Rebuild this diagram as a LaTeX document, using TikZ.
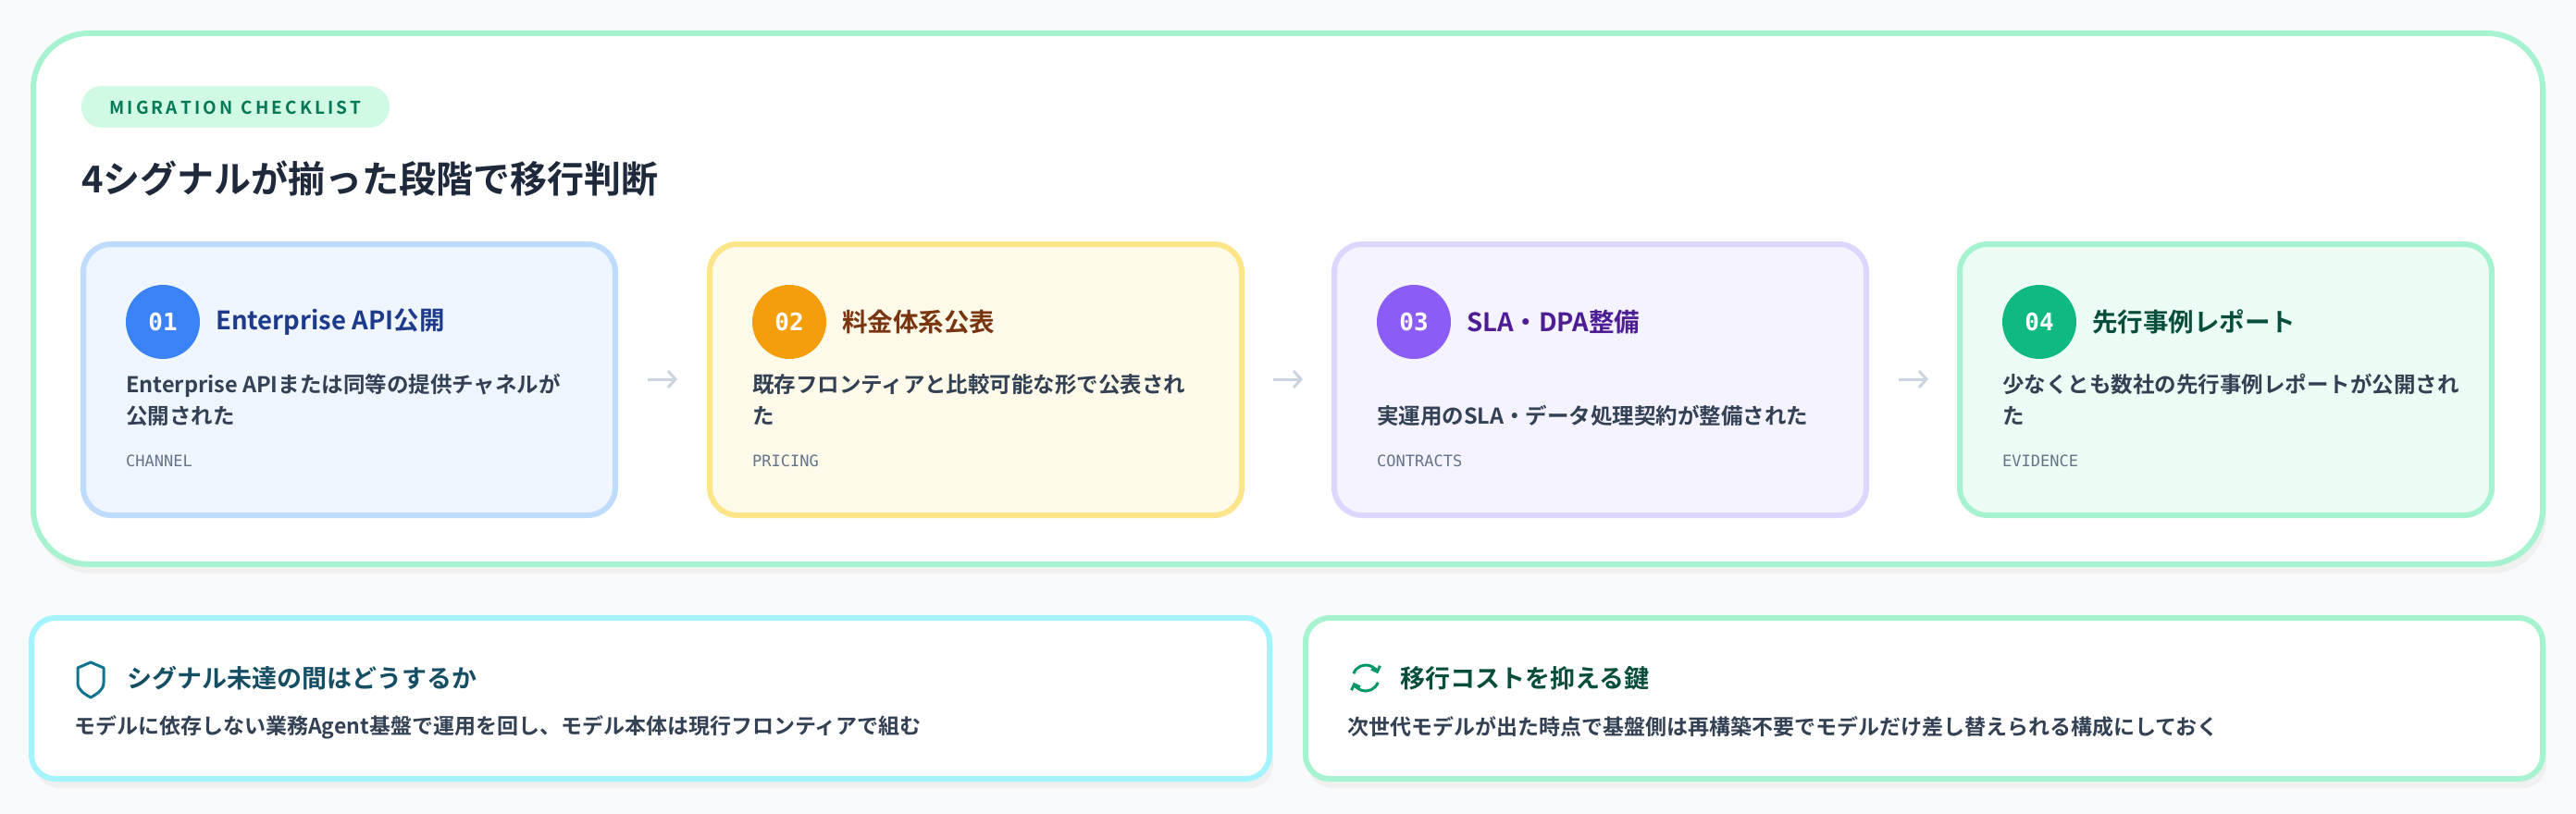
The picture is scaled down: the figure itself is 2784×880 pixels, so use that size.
\documentclass[tikz,border=0pt]{standalone}
\usepackage{fontspec}
\setmainfont{Noto Sans CJK JP}
\newfontfamily\jpb{Noto Sans CJK JP Bold}
\newfontfamily\monof{DejaVu Sans Mono}
\usetikzlibrary{arrows.meta}
\definecolor{bg}{HTML}{F8FAFC}
\definecolor{mint}{HTML}{A7F3D0}
\definecolor{pillf}{HTML}{D1FAE5}
\definecolor{pillt}{HTML}{047857}
\definecolor{ink}{HTML}{1E293B}
\definecolor{body}{HTML}{334155}
\definecolor{lab}{HTML}{64748B}
\definecolor{arr}{HTML}{CBD5E1}
\definecolor{fA}{HTML}{EFF6FF}\definecolor{bA}{HTML}{BFDBFE}\definecolor{cA}{HTML}{3B82F6}\definecolor{tA}{HTML}{1E3A8A}
\definecolor{fB}{HTML}{FEFBEA}\definecolor{bB}{HTML}{FDE68A}\definecolor{cB}{HTML}{F59E0B}\definecolor{tB}{HTML}{78350F}
\definecolor{fC}{HTML}{F5F3FF}\definecolor{bC}{HTML}{DDD6FE}\definecolor{cC}{HTML}{8B5CF6}\definecolor{tC}{HTML}{4C1D95}
\definecolor{fD}{HTML}{ECFDF5}\definecolor{bD}{HTML}{A7F3D0}\definecolor{cD}{HTML}{10B981}\definecolor{tD}{HTML}{064E3B}
\definecolor{cyanb}{HTML}{A5F3FC}\definecolor{tcy}{HTML}{164E63}\definecolor{icy}{HTML}{0E7490}\definecolor{igr}{HTML}{059669}
\begin{document}
\begin{tikzpicture}[x=1pt,y=-1pt,
  card/.style={draw=#1,line width=6pt,rounded corners=30pt},
  num/.style={circle,minimum size=80pt,inner sep=0pt,text=white,font=\monof\bfseries\fontsize{26}{26}\selectfont},
  ctitle/.style={anchor=west,inner sep=0pt,font=\jpb\fontsize{27.5}{27.5}\selectfont},
  cbody/.style={anchor=north west,align=left,text=body,font=\jpb\fontsize{23.5}{34}\selectfont,inner sep=0pt},
  clab/.style={anchor=west,text=lab,font=\monof\fontsize{17}{17}\selectfont,inner sep=0pt},
  flow/.style={draw=arr,line width=3pt,-{Straight Barb[length=8pt,width=18pt]}},
  btitle/.style={anchor=west,font=\jpb\fontsize{27}{27}\selectfont,inner sep=0pt},
  bbody/.style={anchor=west,text=body,font=\jpb\fontsize{23}{23}\selectfont,inner sep=0pt},
  icon/.style={line width=3pt,-{Straight Barb[length=5pt,width=10pt]}}]
\fill[bg] (0,0) rectangle (2784,880);
\useasboundingbox (0,0) rectangle (2784,880);
% outer panel
\fill[black!6] (40,45) [rounded corners=60pt] rectangle (2752,620);
\draw[fill=white,draw=mint,line width=6pt,rounded corners=60pt] (36,36) rectangle (2748,610);
\fill[pillf,rounded corners=22pt] (88,93) rectangle (421,138);
\node[text=pillt,font=\jpb\fontsize{19}{19}\selectfont] (pill) at (254.5,116) {M\,I\,G\,R\,A\,T\,I\,O\,N\ \ C\,H\,E\,C\,K\,L\,I\,S\,T};
\node[anchor=west,inner sep=0pt,text=ink,font=\jpb\fontsize{40}{40}\selectfont] (title) at (88,193) {4シグナルが揃った段階で移行判断};
% cards
\foreach \x/\f/\b/\c/\t/\n/\ttl/\lab [count=\i] in {
  90/fA/bA/cA/tA/01/{Enterprise API公開}/CHANNEL,
  767/fB/bB/cB/tB/02/{料金体系公表}/PRICING,
  1442/fC/bC/cC/tC/03/{SLA・DPA整備}/CONTRACTS,
  2118/fD/bD/cD/tD/04/{先行事例レポート}/EVIDENCE}{
  \draw[card=\b,fill=\f] (\x,264) rectangle ++(575,293);
  \node[num,fill=\c] (n\i) at (\x+86,348) {\n};
  \node[ctitle,text=\t] (t\i) at (\x+143,348) {\ttl};
  \node[clab] (l\i) at (\x+46,498) {\lab};
}
\node[cbody] (b1) at (136,404) {Enterprise APIまたは同等の提供チャネルが\\公開された};
\node[cbody] (b2) at (813,404) {既存フロンティアと比較可能な形で公表され\\た};
\node[cbody] (b3) at (1488,438) {実運用のSLA・データ処理契約が整備された};
\node[cbody] (b4) at (2164,404) {少なくとも数社の先行事例レポートが公開され\\た};
\coordinate (a1s) at (700,410);\coordinate (a1e) at (732,410);
\coordinate (a2s) at (1376,410);\coordinate (a2e) at (1408,410);
\coordinate (a3s) at (2052,410);\coordinate (a3e) at (2084,410);
\draw[flow] (a1s) -- (a1e);\draw[flow] (a2s) -- (a2e);\draw[flow] (a3s) -- (a3e);
% bottom boxes
\fill[black!6] (38,678) [rounded corners=26pt] rectangle (1376,852);
\fill[black!6] (1414,678) [rounded corners=26pt] rectangle (2752,852);
\draw[fill=white,draw=cyanb,line width=6pt,rounded corners=26pt] (34,668) rectangle (1372,842);
\draw[fill=white,draw=mint,line width=6pt,rounded corners=26pt] (1411,668) rectangle (2748,842);
% shield icon
\draw[icy,line width=3pt,line join=round] (98,716) -- (112,722) -- (112,738) .. controls (112,746) and (105,750) .. (98,754) .. controls (91,750) and (84,746) .. (84,738) -- (84,722) -- cycle;
\node[btitle,text=tcy] (bt1) at (137,733) {シグナル未達の間はどうするか};
\node[bbody] (bb1) at (80,786) {モデルに依存しない業務Agent基盤で運用を回し、モデル本体は現行フロンティアで組む};
% refresh icon
\draw[igr,icon] ([shift={(200:14)}]1476,733) arc (200:340:14);
\draw[igr,icon] ([shift={(20:14)}]1476,733) arc (20:160:14);
\node[btitle,text=tD] (bt2) at (1513,733) {移行コストを抑える鍵};
\node[bbody] (bb2) at (1456,786) {次世代モデルが出た時点で基盤側は再構築不要でモデルだけ差し替えられる構成にしておく};
\end{tikzpicture}
\end{document}
